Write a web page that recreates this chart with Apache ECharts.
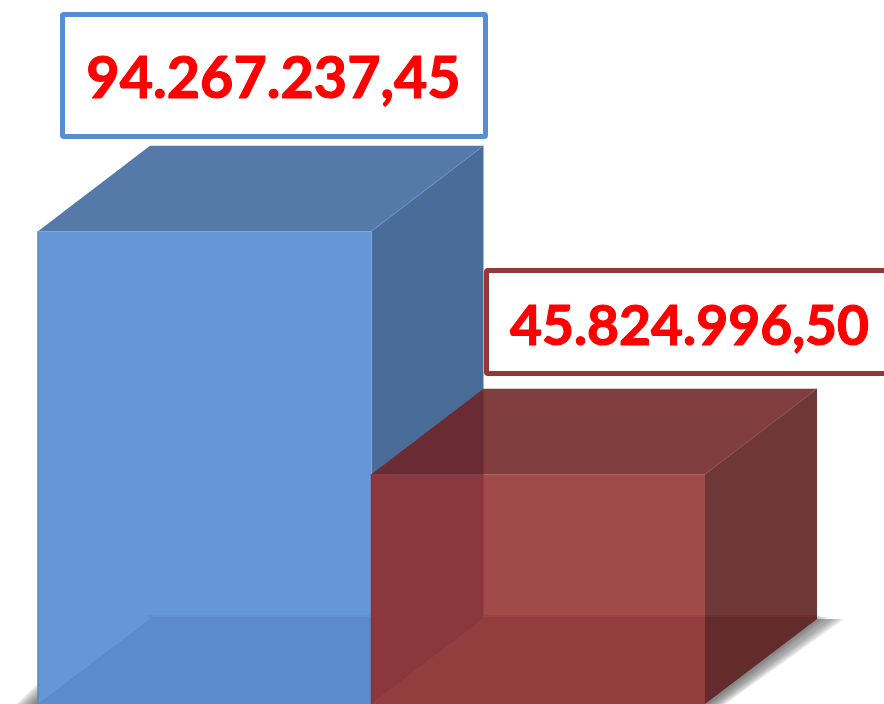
<!DOCTYPE html>
<html><head><meta charset="utf-8">
<style>html,body{margin:0;padding:0;background:#fff}#c{width:884px;height:704px}</style>
<script src="https://cdn.jsdelivr.net/npm/echarts@6/dist/echarts.min.js"></script>
</head><body><div id="c"></div>
<script>
const categories = ['A', 'B'];
const values = [94267237.45, 45824996.50];
const valueLabels = ['94.267.237,45', '45.824.996,50'];

const DX = 112, DY = 85.5, FLOOR_DY = 85;
const skins = [
  {front:'#6596d8', top:'#557aa9', side:'#4a6c98', floor:'#5b8bcd', floorSide:null, edge:'#5f8fd0', alpha:1,
   box:{x:62.5,y:14.5,w:423,h:122,stroke:'#558ed5'}, text:{x:273.5,y:79,size:57.5}},
  {front:'#933130', top:'#6e2323', side:'#5b1c1c', floor:'#933e3e', floorSide:'#632b2c', edge:'#8a4444', alpha:.88,
   box:{x:486.5,y:270.5,w:410,h:103,stroke:'#953735'}, text:{x:689.5,y:327,size:55.2}}
];
const SHADOW_STEPS = [2,4,6,8,10,12,14,16,18];
function poly(pts, fill, opacity){
  return {type:'polygon', shape:{points:pts}, style:{fill:fill, opacity:opacity==null?1:opacity}, silent:true};
}
function renderItem(params, api){
  const i = params.dataIndex, s = skins[i];
  const band = api.size([1,0])[0];
  const topC = api.coord([api.value(0), api.value(1)]);
  const botC = api.coord([api.value(0), 0]);
  const l = topC[0]-band/2, r = topC[0]+band/2, t = topC[1], b = botC[1];
  const ch = [];
  // soft ground shadow, built from stacked translucent layers
  SHADOW_STEPS.forEach(k=>{
    if (i===0) ch.push(poly([[l+1,b-k*1.2],[l+1,b+1],[l-k*1.25,b+1]], '#555', .13));
    if (i===1) ch.push(poly([[r+DX-4,b-FLOOR_DY-2],[r+DX,b-FLOOR_DY-(k>8?0:5-k*.5)],[r+DX+k*1.5,b-FLOOR_DY-(k>8?0:2)],[r+k*1.05,b+1],[r-4,b+1]], '#555', .13));
  });
  // box faces
  const sideBottom = s.floorSide ? [[r+DX,b-FLOOR_DY-2],[r,b-FLOOR_DY-2]] : [[r+DX,b-FLOOR_DY],[r,b]];
  ch.push(poly([[r,t],[r+DX,t-DY]].concat(sideBottom), s.side, s.alpha));
  ch.push(poly([[l,t],[l+DX,t-DY],[r+DX,t-DY],[r,t]], s.top, s.alpha));
  ch.push({type:'rect', shape:{x:l,y:t,width:band,height:b-t}, style:{fill:s.front, opacity:s.alpha}, silent:true});
  // floor seen through the faces, with a softened back edge
  ch.push(poly([[l+DX-3,b-FLOOR_DY-4],[r,b-FLOOR_DY-4],[r,b-FLOOR_DY],[l+DX,b-FLOOR_DY]], s.floor, .5));
  ch.push(poly([[l,b],[l+DX,b-FLOOR_DY],[l+DX+1,b-FLOOR_DY-2],[r,b-FLOOR_DY-2],[r,b]], s.floor));
  if (s.floorSide) {
    ch.push(poly([[r,b-FLOOR_DY-4],[r+DX,b-FLOOR_DY-4],[r+DX,b-FLOOR_DY-2],[r,b-FLOOR_DY-2]], s.floorSide, .5));
    ch.push(poly([[r,b],[r+DX,b-FLOOR_DY],[r+DX,b-FLOOR_DY-2],[r,b-FLOOR_DY-2]], s.floorSide));
  }
  // edges
  ch.push({type:'line', shape:{x1:r,y1:t,x2:r+DX,y2:t-DY}, style:{stroke:s.edge, lineWidth:1.5, opacity:.45}, silent:true});
  ch.push({type:'line', shape:{x1:l,y1:t,x2:l,y2:b}, style:{stroke:i?s.front:'#5e84ba', lineWidth:1.5}, silent:true});
  // value label box
  ch.push({type:'rect', shape:{x:s.box.x,y:s.box.y,width:s.box.w,height:s.box.h,r:1.5},
    style:{fill:'#fff', stroke:s.box.stroke, lineWidth:5}, silent:true});
  ch.push({type:'text', style:{text:valueLabels[i], x:s.text.x, y:s.text.y, fill:'#ff0000', stroke:'#ff0000', lineWidth:1.2,
    font:'bold '+s.text.size+'px Lato, sans-serif', align:'center', verticalAlign:'middle'}, silent:true});
  return {type:'group', children:ch};
}
const chart = echarts.init(document.getElementById('c'), null, {renderer:'canvas'});
chart.setOption({
  animation:false,
  backgroundColor:'#ffffff',
  grid:{left:38, right:179, top:0, bottom:0},
  xAxis:{type:'category', data:categories, show:false},
  yAxis:{type:'value', min:0, max:140344000, show:false},
  series:[{type:'custom', clip:false, renderItem:renderItem,
    encode:{x:0,y:1},
    data:categories.map((c,i)=>[c,values[i]])}]
});
</script></body></html>
